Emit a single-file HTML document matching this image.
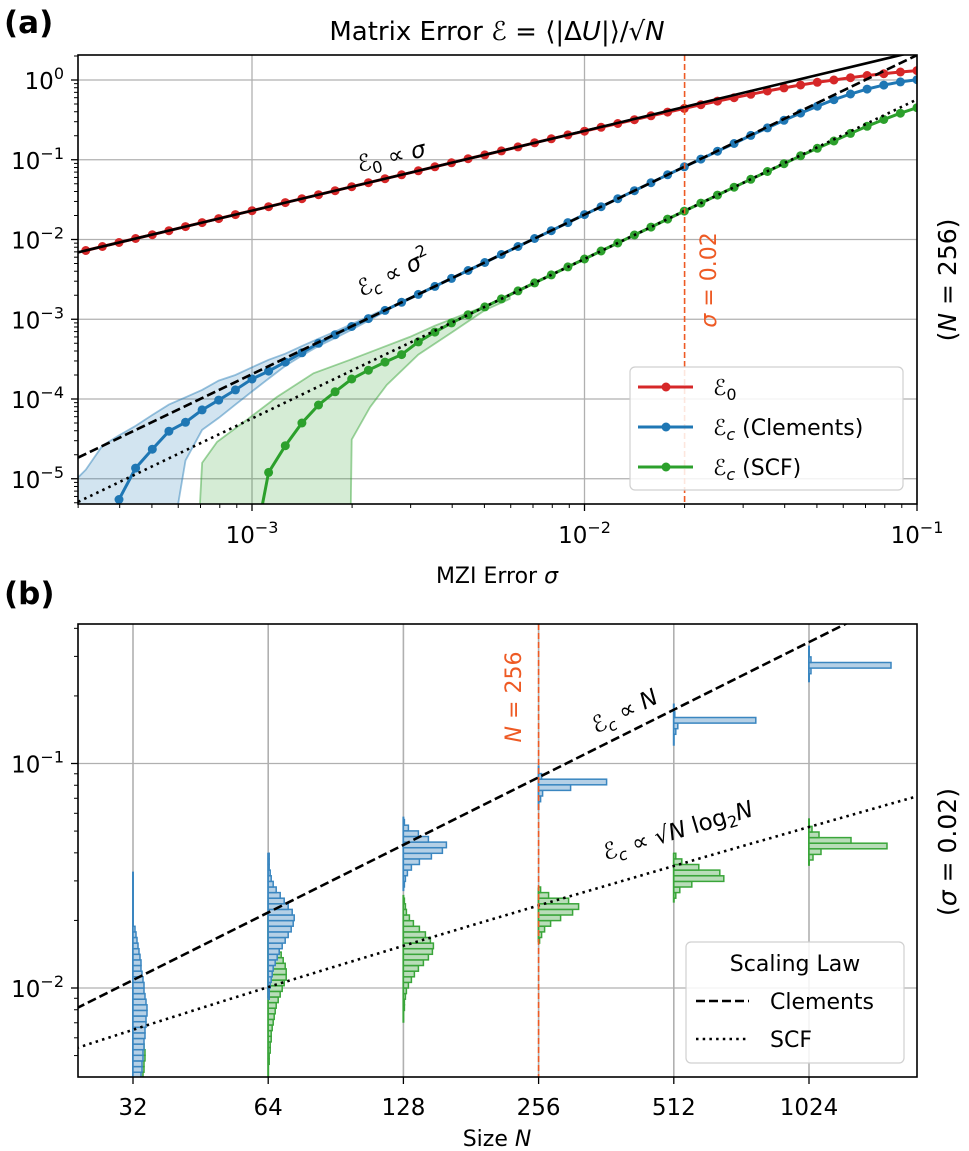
<!DOCTYPE html>
<html><head><meta charset="utf-8"><style>
html,body{margin:0;padding:0;background:#fff;}
svg{display:block;font-family:"DejaVu Sans","Liberation Sans",sans-serif;}
</style></head><body>
<svg id="fig" width="969" height="1151" viewBox="0 0 969 1151" xmlns="http://www.w3.org/2000/svg">
<defs>
<clipPath id="clipA"><rect x="78" y="55" width="839" height="449"/></clipPath>
<clipPath id="clipB"><rect x="78" y="624" width="839" height="453"/></clipPath>
</defs>
<rect x="0" y="0" width="969" height="1151" fill="#fff"/>
<g id="gridA"></g>
<g id="gridB"></g>
<g id="plotA" clip-path="url(#clipA)"></g>
<g id="plotB" clip-path="url(#clipB)"></g>
<g id="ticks"></g>
<rect x="78" y="55" width="839" height="449" fill="none" stroke="#000" stroke-width="1.6"/>
<rect x="78" y="624" width="839" height="453" fill="none" stroke="#000" stroke-width="1.6"/>

<text x="4" y="33" font-size="31" font-weight="bold">(a)</text>
<text x="4" y="604" font-size="31" font-weight="bold">(b)</text>
<text x="497" y="40" font-size="26" text-anchor="middle">Matrix Error <tspan font-style="italic">ℰ</tspan> = ⟨|Δ<tspan font-style="italic">U</tspan>|⟩/√<tspan font-style="italic">N</tspan></text>
<text x="497" y="583" font-size="22" text-anchor="middle">MZI Error <tspan font-style="italic">σ</tspan></text>
<text x="497" y="1146" font-size="22" text-anchor="middle">Size <tspan font-style="italic">N</tspan></text>
<text transform="translate(956,280) rotate(-90)" font-size="25" text-anchor="middle">(<tspan font-style="italic">N</tspan> = 256)</text>
<text transform="translate(956,852) rotate(-90)" font-size="25" text-anchor="middle">(<tspan font-style="italic">σ</tspan> = 0.02)</text>
<text transform="translate(716,280) rotate(-90)" font-size="22" text-anchor="middle" fill="#ee5a24"><tspan font-style="italic">σ</tspan> = 0.02</text>
<text transform="translate(521,697) rotate(-90)" font-size="22" text-anchor="middle" fill="#ee5a24"><tspan font-style="italic">N</tspan> = 256</text>

<text transform="translate(393,164) rotate(-13.5)" font-size="23" text-anchor="middle"><tspan font-style="italic">ℰ</tspan><tspan font-size="16" dy="5">0</tspan><tspan dy="-5"> ∝ </tspan><tspan font-style="italic">σ</tspan></text>
<text transform="translate(397,280) rotate(-25.6)" font-size="23" text-anchor="middle"><tspan font-style="italic">ℰ</tspan><tspan font-size="16" dy="5" font-style="italic">c</tspan><tspan dy="-5"> ∝ </tspan><tspan font-style="italic">σ</tspan><tspan font-size="16" dy="-10">2</tspan></text>
<text transform="translate(628,718) rotate(-26.6)" font-size="23" text-anchor="middle"><tspan font-style="italic">ℰ</tspan><tspan font-size="16" dy="5" font-style="italic">c</tspan><tspan dy="-5"> ∝ </tspan><tspan font-style="italic">N</tspan></text>
<g transform="translate(680,838) rotate(-16.7)">
<text x="0" y="0" font-size="23" text-anchor="middle"><tspan font-style="italic">ℰ</tspan><tspan font-size="16" dy="5" font-style="italic">c</tspan><tspan dy="-5"> ∝ √</tspan><tspan font-style="italic">N</tspan> log<tspan font-size="16" dy="5">2</tspan><tspan dy="-5" font-style="italic">N</tspan></text>
</g>

<g>
<rect x="630" y="367" width="273" height="123" rx="5" fill="#fff" fill-opacity="0.85" stroke="#d0d0d0" stroke-width="1.2"/>
<line x1="638" y1="387" x2="693" y2="387" stroke="#d62728" stroke-width="3"/>
<circle cx="666" cy="387" r="4.5" fill="#d62728"/>
<text x="713" y="395" font-size="22"><tspan font-style="italic">ℰ</tspan><tspan font-size="16" dy="5">0</tspan></text>
<line x1="638" y1="427" x2="693" y2="427" stroke="#1f77b4" stroke-width="3"/>
<circle cx="666" cy="427" r="4.5" fill="#1f77b4"/>
<text x="713" y="435" font-size="22"><tspan font-style="italic">ℰ</tspan><tspan font-size="16" dy="5" font-style="italic">c</tspan><tspan dy="-5"> (Clements)</tspan></text>
<line x1="638" y1="467" x2="693" y2="467" stroke="#2ca02c" stroke-width="3"/>
<circle cx="666" cy="467" r="4.5" fill="#2ca02c"/>
<text x="713" y="475" font-size="22"><tspan font-style="italic">ℰ</tspan><tspan font-size="16" dy="5" font-style="italic">c</tspan><tspan dy="-5"> (SCF)</tspan></text>
</g>
<g>
<rect x="686" y="942" width="218" height="121" rx="5" fill="#fff" fill-opacity="0.85" stroke="#d0d0d0" stroke-width="1.2"/>
<text x="795" y="971" font-size="22" text-anchor="middle">Scaling Law</text>
<line x1="696" y1="1001" x2="749" y2="1001" stroke="#000" stroke-width="2.5" stroke-dasharray="9,4"/>
<text x="770" y="1009" font-size="22">Clements</text>
<line x1="696" y1="1039" x2="749" y2="1039" stroke="#000" stroke-width="2.5" stroke-dasharray="2.5,4.2"/>
<text x="770" y="1047" font-size="22">SCF</text>
</g>

<script>
// ---------- Panel (a) data ----------
const sigmaExp = [-3.5,-3.45,-3.4,-3.35,-3.3,-3.25,-3.2,-3.15,-3.1,-3.05,-3,-2.95,-2.9,-2.85,-2.8,-2.75,-2.7,-2.65,-2.6,-2.55,-2.5,-2.45,-2.4,-2.35,-2.3,-2.25,-2.2,-2.15,-2.1,-2.05,-2,-1.95,-1.9,-1.85,-1.8,-1.75,-1.7,-1.65,-1.6,-1.55,-1.5,-1.45,-1.4,-1.35,-1.3,-1.25,-1.2,-1.15,-1.1,-1.05,-1];
const redE0 = [.00727,.00816,.00916,.0103,.0115,.0129,.0145,.0163,.0183,.0205,.023,.0258,.029,.0325,.0365,.0409,.0459,.0515,.0578,.0648,.0727,.0816,.0916,.103,.115,.129,.145,.163,.183,.205,.228,.255,.285,.318,.356,.396,.441,.49,.544,.60,.662,.727,.795,.866,.935,1.0,1.07,1.14,1.2,1.26,1.31];
const blueStart = 2;
const blueEc = [5.5e-6,1.36e-5,2.35e-5,3.95e-5,5.1e-5,7.3e-5,9.7e-5,1.3e-4,1.78e-4,2.24e-4,2.9e-4,3.8e-4,5.0e-4,6.4e-4,8.1e-4,1.02e-3,1.29e-3,1.63e-3,2.05e-3,2.58e-3,3.25e-3,4.09e-3,5.15e-3,6.48e-3,8.16e-3,.0103,.0129,.0163,.0205,.0258,.0325,.0409,.0515,.0648,.0816,.102,.128,.160,.202,.251,.312,.385,.47,.566,.668,.77,.864,.946,1.01];
const greenStart = 10;
const greenEc = [1e-6,1.2e-5,2.6e-5,5e-5,8.4e-5,1.23e-4,1.78e-4,2.3e-4,2.9e-4,3.6e-4,5.2e-4,6.9e-4,9e-4,1.14e-3,1.43e-3,1.8e-3,2.27e-3,2.86e-3,3.6e-3,4.53e-3,5.7e-3,7.18e-3,9.03e-3,.0114,.0143,.018,.0227,.0286,.036,.0453,.0569,.0713,.0893,.112,.139,.172,.214,.263,.32,.383,.45];
const blueBandUpK = [-1,0,1,2,3,4,5,6,7,8,9,10,11,12,13,14,15,16,17,18];
const blueBandUp = [8e-6,1.3e-5,2.6e-5,3.5e-5,4.6e-5,6.3e-5,8.5e-5,1.05e-4,1.3e-4,1.7e-4,2.0e-4,2.5e-4,3.1e-4,3.7e-4,4.6e-4,5.7e-4,7.0e-4,8.7e-4,1.08e-3,1.35e-3];
const blueBandLoK = [-1,5,6,7,8,9,10,11,12,13,14,15,16,17,18];
const blueBandLo = [1e-6,1e-6,1.7e-5,4.1e-5,5.8e-5,8.5e-5,1.24e-4,1.8e-4,2.6e-4,3.5e-4,4.6e-4,5.8e-4,7.4e-4,9.6e-4,1.25e-3];
const greenBandUpK = [6.7,7,7.9,9.7,11.5,13.7,15.9,19.5,21,22.5,24,25.5];
const greenBandUp = [1e-6,1.58e-5,2.9e-5,5.5e-5,1.06e-4,2.1e-4,3.1e-4,6e-4,8.3e-4,1.1e-3,1.45e-3,1.95e-3];
const greenBandLoK = [6.7,15.9,16,17.1,18.1,20,22,24,25.5];
const greenBandLo = [1e-6,1e-6,3.1e-5,7.9e-5,1.5e-4,3.6e-4,6.8e-4,1.3e-3,1.8e-3];
const fitE0 = 23, fitClements = 205, fitSCF = 57;
const xTicksA = [-3,-2,-1];
const xTickExpA = ["−3","−2","−1"];
const yTicksA = [0,-1,-2,-3,-4,-5];
const yTickExpA = ["0","−1","−2","−3","−4","−5"];
const markerSigma = 0.02;

// ---------- Panel (b) data ----------
const sizesN = [32,64,128,256,512,1024];
const sizeLabels = ["32","64","128","256","512","1024"];
const binW = 0.025;
const blueHistLo = [-2.4,-2.05,-1.55,-1.17,-0.87,-0.6];
const blueHistCounts = [
 [8,9,9,10,10,11,11,12,12,13,13,14,14,13,12,11,11,10,9,8,8,7,6,5,4,3,2],
 [1,1,2,3,4,5,7,9,11,14,17,20,23,25,26,24,20,16,12,8,5,3,2,1,1,1],
 [1,2,4,8,16,28,39,43,25,15,5,1],
 [2,4,32,68,3],
 [2,4,82,1],
 [2,82,2]];
const blueSpike = [[.004,.033],[.009,.04],[.027,.058],[.062,.098],[.12,.185],[.23,.335]];
const greenHistLo = [-2.4,-2.34,-2.1,-1.8,-1.6,-1.43];
const greenHistCounts = [
 [10,11,11,12,12,11,10,9,8,6,4,2],
 [1,1,2,2,3,3,4,5,6,7,8,10,12,14,16,18,18,17,15,13,11,9,7,5,4,3,2,1,1,1],
 [1,1,2,3,5,8,11,15,20,25,29,30,27,22,16,10,6,3,2,1],
 [1,3,6,12,22,34,40,30,10,2],
 [2,6,18,50,46,25,8,2],
 [4,12,78,42,10,3]];
const greenSpike = [[.004,.011],[.004,.021],[.007,.026],[.016,.028],[.024,.04],[.035,.057]];
const lawClements = 3.39e-4, lawSCF = 5.15e-4;
const yTicksB = [-1,-2];
const yTickExpB = ["−1","−2"];
const markerN = 256;

const NS = "http://www.w3.org/2000/svg";
function mk(tag, attrs, parent){const e=document.createElementNS(NS,tag);for(const k in attrs)e.setAttribute(k,attrs[k]);parent.appendChild(e);return e;}
function powLabel(el, exp){const b=document.createElementNS(NS,'tspan');b.textContent='10';el.appendChild(b);const s=document.createElementNS(NS,'tspan');s.setAttribute('font-size','16');s.setAttribute('dy','-10');s.textContent=exp;el.appendChild(s);}
const xA = s => 252 + 332.5*(Math.log10(s)+3);
const yA = v => 80 - 79.75*Math.log10(v);
const sigOfK = k => Math.pow(10,-3.5+0.05*k);
const xB = n => 133 + 135.2*(Math.log2(n)-5);
const yB = v => 988 - 224.5*(Math.log10(v)+2);
const gA = document.getElementById('plotA'), gB = document.getElementById('plotB');
const gGA = document.getElementById('gridA'), gGB = document.getElementById('gridB');
const gT = document.getElementById('ticks');

xTicksA.forEach(e=>{
 const l=mk('line',{x1:xA(Math.pow(10,e)),x2:xA(Math.pow(10,e)),y1:55,y2:504,stroke:'#b0b0b0','stroke-width':1.3},gGA);
 
 
});
yTicksA.forEach(e=>{
 const l=mk('line',{x1:78,x2:917,y1:yA(Math.pow(10,e)),y2:yA(Math.pow(10,e)),stroke:'#b0b0b0','stroke-width':1.3},gGA);
 
 
});
sizesN.forEach(n=>{
 const l=mk('line',{x1:xB(n),x2:xB(n),y1:624,y2:1077,stroke:'#b0b0b0','stroke-width':1.6},gGB);
 
 
});
yTicksB.forEach(e=>{
 const l=mk('line',{x1:78,x2:917,y1:yB(Math.pow(10,e)),y2:yB(Math.pow(10,e)),stroke:'#b0b0b0','stroke-width':1.3},gGB);
 
 
});

xTicksA.forEach((e,i)=>{
 const x=xA(Math.pow(10,e));
 const t=mk('line',{x1:x,x2:x,y1:504,y2:511,stroke:'#000','stroke-width':1.3},gT);
 
 
 const lb=mk('text',{x:x,y:543,'font-size':23,'text-anchor':'middle'},gT);
 powLabel(lb,xTickExpA[i]);
 
 
});
for(let d=-4;d<=-2;d++){for(let m=2;m<=9;m++){const s=m*Math.pow(10,d);const x=xA(s);if(x<78||x>917)continue;
 const t=mk('line',{x1:x,x2:x,y1:504,y2:508,stroke:'#000','stroke-width':1},gT);
 
 }}
yTicksA.forEach((e,i)=>{
 const y=yA(Math.pow(10,e));
 const t=mk('line',{x1:71,x2:78,y1:y,y2:y,stroke:'#000','stroke-width':1.3},gT);
 
 
 const lb=mk('text',{x:64,y:y+9,'font-size':23,'text-anchor':'end'},gT);
 powLabel(lb,yTickExpA[i]);
 
 
});
for(let d=-6;d<=0;d++){for(let m=2;m<=9;m++){const y=yA(m*Math.pow(10,d));if(y<55||y>504)continue;
 const t=mk('line',{x1:74,x2:78,y1:y,y2:y,stroke:'#000','stroke-width':1},gT);
 
 }}
sizesN.forEach((n,i)=>{
 const x=xB(n);
 const t=mk('line',{x1:x,x2:x,y1:1077,y2:1084,stroke:'#000','stroke-width':1.3},gT);
 
 
 const lb=mk('text',{x:x,y:1115,'font-size':23,'text-anchor':'middle'},gT);
 lb.textContent=sizeLabels[i];
 
 
});
yTicksB.forEach((e,i)=>{
 const y=yB(Math.pow(10,e));
 const t=mk('line',{x1:71,x2:78,y1:y,y2:y,stroke:'#000','stroke-width':1.3},gT);
 
 
 const lb=mk('text',{x:64,y:y+9,'font-size':23,'text-anchor':'end'},gT);
 powLabel(lb,yTickExpB[i]);
 
 
});
for(let d=-3;d<=0;d++){for(let m=2;m<=9;m++){const y=yB(m*Math.pow(10,d));if(y<624||y>1077)continue;
 const t=mk('line',{x1:74,x2:78,y1:y,y2:y,stroke:'#000','stroke-width':1},gT);
 
 }}

function band(upK,up,loK,lo,color,name){
 let d='M';
 upK.forEach((k,i)=>{d+=xA(sigOfK(k)).toFixed(1)+','+yA(up[i]).toFixed(1)+' L';});
 for(let i=loK.length-1;i>=0;i--){d+=xA(sigOfK(loK[i])).toFixed(1)+','+yA(lo[i]).toFixed(1)+(i?' L':' Z');}
 const p=mk('path',{d:d,fill:color,'fill-opacity':0.2,stroke:color,'stroke-opacity':0.45,'stroke-width':1.8},gA);
 
 
}
band(blueBandUpK,blueBandUp,blueBandLoK,blueBandLo,'#1f77b4','clements-band');
band(greenBandUpK,greenBandUp,greenBandLoK,greenBandLo,'#2ca02c','scf-band');

function series(start,vals,color,name){
 const pts=vals.map((v,i)=>[xA(Math.pow(10,sigmaExp[start+i])),yA(v)]);
 const pl=mk('polyline',{points:pts.map(p=>p[0].toFixed(1)+','+p[1].toFixed(1)).join(' '),fill:'none',stroke:color,'stroke-width':3},gA);
 
 
 pts.forEach(p=>{
  const c=mk('circle',{cx:p[0].toFixed(1),cy:p[1].toFixed(1),r:4.5,fill:color},gA);
  
  
 });
}
series(0,redE0,'#d62728','e0-series');
series(blueStart,blueEc,'#1f77b4','clements-series');
series(greenStart,greenEc,'#2ca02c','scf-series');

const sLo=3e-4, sHi=0.1;
const f0=mk('line',{x1:xA(sLo),y1:yA(fitE0*sLo),x2:xA(sHi),y2:yA(fitE0*sHi),stroke:'#000','stroke-width':2.6},gA);


const f1=mk('line',{x1:xA(sLo),y1:yA(fitClements*sLo*sLo),x2:xA(sHi),y2:yA(fitClements*sHi*sHi),stroke:'#000','stroke-width':2.6,'stroke-dasharray':'9,4'},gA);


const f2=mk('line',{x1:xA(sLo),y1:yA(fitSCF*sLo*sLo),x2:xA(sHi),y2:yA(fitSCF*sHi*sHi),stroke:'#000','stroke-width':2.6,'stroke-dasharray':'2.5,4.2'},gA);


const vm=mk('line',{x1:xA(markerSigma),x2:xA(markerSigma),y1:55,y2:504,stroke:'#ee5a24','stroke-width':1.6,'stroke-dasharray':'6,3'},gA);



function hists(los,counts,spikes,color,fill,name){
 sizesN.forEach((n,i)=>{
  const x0=xB(n);
  const sp=mk('line',{x1:x0,x2:x0,y1:yB(spikes[i][0]),y2:yB(spikes[i][1]),stroke:color,'stroke-width':2},gB);
  
  
  counts[i].forEach((c,j)=>{
   const a=Math.pow(10,los[i]+j*binW), b=Math.pow(10,los[i]+(j+1)*binW);
   const yt=yB(b), yb=yB(a);
   const r=mk('rect',{x:x0,y:yt.toFixed(1),width:c,height:(yb-yt).toFixed(1),fill:fill,stroke:color,'stroke-width':1.5},gB);
   
   
  });
 });
}
hists(greenHistLo,greenHistCounts,greenSpike,'#3aa53a','#b9ddb9','scf-histogram');
hists(blueHistLo,blueHistCounts,blueSpike,'#3a86c0','#b5d0e6','clements-histogram');

const nLo=20, nHi=2048;
const l1=mk('line',{x1:xB(nLo),y1:yB(lawClements*nLo),x2:xB(nHi),y2:yB(lawClements*nHi),stroke:'#000','stroke-width':2.6,'stroke-dasharray':'9,4'},gB);


const ptsS=[];for(let t=4.3;t<=11.01;t+=0.1){const n=Math.pow(2,t);ptsS.push(xB(n).toFixed(1)+','+yB(lawSCF*Math.sqrt(n*Math.log2(n))).toFixed(1));}
const l2=mk('polyline',{points:ptsS.join(' '),fill:'none',stroke:'#000','stroke-width':2.6,'stroke-dasharray':'2.5,4.2'},gB);


const vmB=mk('line',{x1:xB(markerN),x2:xB(markerN),y1:624,y2:1077,stroke:'#ee5a24','stroke-width':1.6,'stroke-dasharray':'6,3'},gB);


</script>
</svg>
</body></html>
